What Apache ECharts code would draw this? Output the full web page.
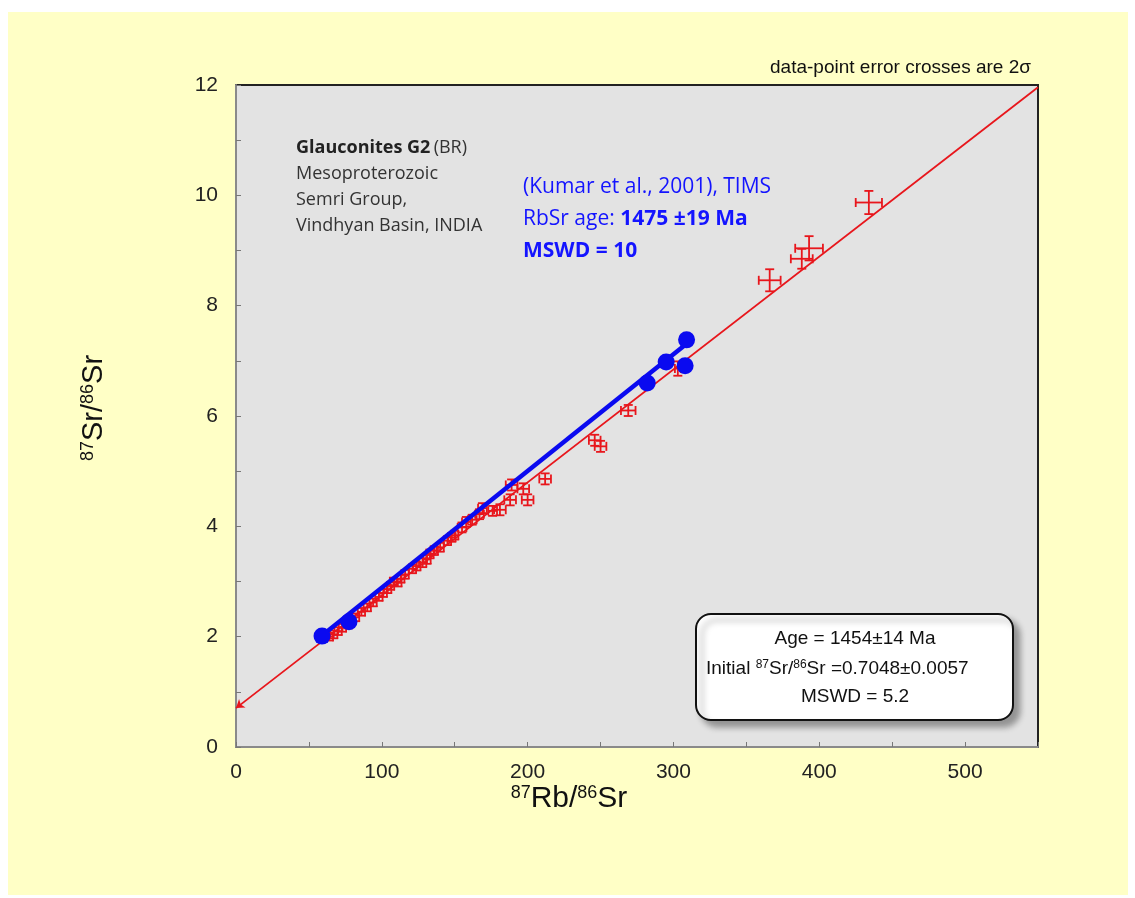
<!DOCTYPE html>
<html>
<head>
<meta charset="utf-8">
<script src="https://cdn.jsdelivr.net/npm/echarts@6/dist/echarts.min.js"></script>
<style>
html,body{margin:0;padding:0;background:#ffffff;}
#bg{position:absolute;left:8px;top:12px;width:1120px;height:883px;background:#ffffc6;}
#chart{position:absolute;left:0;top:0;width:1135px;height:898px;}
</style>
</head>
<body>
<div id="bg"></div>
<div id="chart"></div>
<script>
// 87Rb/86Sr of the red error-cross data points
const redX = [64, 67, 70, 73, 77, 82, 86, 90, 94, 98, 101, 104, 106, 108, 111, 113, 116, 121, 124, 128, 131, 133, 136, 140, 145, 148, 150, 155, 158, 162, 167, 169, 176, 181, 188, 189, 197, 200, 212, 246, 250, 269, 303, 366, 388, 393, 434];
// 87Sr/86Sr of the red data points
const redY = [2.00, 2.04, 2.10, 2.16, 2.22, 2.35, 2.45, 2.53, 2.62, 2.72, 2.79, 2.86, 2.92, 3.00, 2.98, 3.05, 3.13, 3.23, 3.28, 3.34, 3.40, 3.50, 3.56, 3.62, 3.74, 3.80, 3.84, 3.98, 4.08, 4.12, 4.22, 4.33, 4.28, 4.30, 4.48, 4.75, 4.68, 4.48, 4.86, 5.56, 5.45, 6.10, 6.86, 8.46, 8.85, 9.04, 9.87];
// 2-sigma errors (x, y)
const redXErr = [2.5, 2.5, 2.5, 2.5, 2.5, 2.5, 2.5, 2.5, 2.5, 2.5, 2.5, 2.5, 2.5, 2.5, 2.5, 2.5, 2.5, 2.5, 2.5, 2.5, 2.5, 2.5, 2.5, 2.5, 2.5, 2.5, 2.5, 3, 3, 3, 3, 3, 3, 4, 4, 4, 4, 4, 4, 4, 4, 5, 2, 7.5, 7.5, 9.5, 9];
const redYErr = [0.07, 0.07, 0.07, 0.07, 0.07, 0.07, 0.07, 0.07, 0.07, 0.07, 0.07, 0.07, 0.07, 0.07, 0.07, 0.07, 0.08, 0.08, 0.08, 0.08, 0.08, 0.08, 0.08, 0.08, 0.08, 0.08, 0.08, 0.09, 0.09, 0.09, 0.09, 0.09, 0.09, 0.1, 0.1, 0.1, 0.1, 0.1, 0.1, 0.1, 0.1, 0.1, 0.13, 0.2, 0.18, 0.22, 0.21];
// Kumar et al. (2001) TIMS points (blue)
const blueX = [59, 77.5, 282, 295, 308, 309];
const blueY = [2.01, 2.27, 6.60, 6.98, 6.91, 7.38];
// regression lines (end points)
const isochronRed = [[0, 0.7048], [550, 11.96]];
const isochronBlue = [[59, 2.02], [309, 7.31]];
// axis ticks
const xTicks = [0, 100, 200, 300, 400, 500];
const yTicks = [0, 2, 4, 6, 8, 10, 12];

const RED = '#e8161c';
const BLUE = '#0a0af0';

const chart = echarts.init(document.getElementById('chart'), null, {renderer: 'canvas'});

const crossData = redX.map((x, i) => [x, redY[i], redXErr[i], redYErr[i]]);

function renderCross(params, api) {
  const x = api.value(0), y = api.value(1), ex = api.value(2), ey = api.value(3);
  const l = api.coord([x - ex, y]);
  const r = api.coord([x + ex, y]);
  const t = api.coord([x, y + ey]);
  const b = api.coord([x, y - ey]);
  const cap = 4.5;
  const st = {stroke: RED, lineWidth: 1.8, fill: null};
  const mk = (x1, y1, x2, y2) => ({type: 'line', shape: {x1, y1, x2, y2}, style: st});
  return {
    type: 'group',
    children: [
      mk(l[0], l[1], r[0], r[1]),
      mk(t[0], t[1], b[0], b[1]),
      mk(l[0], l[1] - cap, l[0], l[1] + cap),
      mk(r[0], r[1] - cap, r[0], r[1] + cap),
      mk(t[0] - cap, t[1], t[0] + cap, t[1]),
      mk(b[0] - cap, b[1], b[0] + cap, b[1])
    ]
  };
}

const LBL = {color: '#222', fontSize: 21, fontFamily: 'Liberation Sans, Arial, sans-serif'};
const BOXFONT = '19px "Liberation Sans", Arial, sans-serif';

const option = {
  backgroundColor: 'transparent',
  animation: false,
  grid: {
    left: 236, top: 85, right: 97, bottom: 151,
    show: true, backgroundColor: '#e3e3e3', borderColor: '#222', borderWidth: 2
  },
  xAxis: {
    type: 'value', min: 0, max: 550, interval: 50,
    axisLine: {show: true, onZero: false, lineStyle: {color: '#8a8a8a', width: 2}},
    axisTick: {show: true, inside: true, length: 5, lineStyle: {color: '#777'}},
    splitLine: {show: false},
    axisLabel: Object.assign({margin: 15, formatter: v => xTicks.indexOf(v) >= 0 ? String(v) : ''}, LBL)
  },
  yAxis: {
    type: 'value', min: 0, max: 12, interval: 1,
    axisLine: {show: true, onZero: false, lineStyle: {color: '#8a8a8a', width: 2}},
    axisTick: {show: true, inside: true, length: 5, lineStyle: {color: '#777'}},
    splitLine: {show: false},
    axisLabel: Object.assign({margin: 18, formatter: v => yTicks.indexOf(v) >= 0 ? String(v) : ''}, LBL)
  },
  series: [
    {
      type: 'line', data: isochronRed, symbol: 'none', z: 2,
      lineStyle: {color: RED, width: 1.8},
      markLine: {
        silent: true, symbol: ['arrow', 'none'], symbolSize: 8,
        label: {show: false},
        lineStyle: {color: RED, width: 0.01, type: 'solid'},
        data: [[{coord: isochronRed[0]}, {coord: [8, 0.7048 + 8 * (isochronRed[1][1] - isochronRed[0][1]) / 550]}]]
      }
    },
    {
      type: 'custom', renderItem: renderCross, data: crossData, z: 3,
      encode: {x: 0, y: 1}
    },
    {
      type: 'line', data: isochronBlue, symbol: 'none', z: 4,
      lineStyle: {color: BLUE, width: 4.5}
    },
    {
      type: 'scatter', data: blueX.map((x, i) => [x, blueY[i]]), z: 5,
      symbol: 'circle', symbolSize: 17, itemStyle: {color: BLUE, opacity: 1}
    }
  ],
  graphic: [
    {
      type: 'text', right: 1135 - 1031, top: 58,
      style: {text: 'data-point error crosses are 2σ', font: '19px "Liberation Sans", Arial, sans-serif', fill: '#111'}
    },
    {
      type: 'text', x: 296, y: 135,
      style: {
        text: '{b|Glauconites G2} {n|(BR)}\n{n|Mesoproterozoic}\n{n|Semri Group,}\n{n|Vindhyan Basin, INDIA}',
        fill: '#333',
        rich: {
          b: {fontFamily: 'Open Sans', fontSize: 18, fontWeight: 'bold', fill: '#222', lineHeight: 26},
          n: {fontFamily: 'Open Sans', fontSize: 18, fill: '#333', lineHeight: 26}
        }
      }
    },
    {
      type: 'text', x: 523, y: 171,
      style: {
        text: '{n|(Kumar et al., 2001), TIMS}\n{n|RbSr age: }{b|1475 ±19 Ma}\n{b|MSWD = 10}',
        fill: BLUE,
        rich: {
          n: {fontFamily: 'Open Sans', fontSize: 21, fill: '#1414ff', lineHeight: 32},
          b: {fontFamily: 'Open Sans', fontSize: 21, fontWeight: 'bold', fill: '#1414ff', lineHeight: 32}
        }
      }
    },
    {
      type: 'rect', shape: {x: 696, y: 614, width: 317, height: 106, r: 15},
      style: {fill: '#ffffff', stroke: '#111', lineWidth: 2, shadowBlur: 6, shadowOffsetX: 6, shadowOffsetY: 6, shadowColor: 'rgba(0,0,0,0.35)'}
    },
    {
      type: 'text', x: 855, y: 639,
      style: {text: 'Age = 1454±14 Ma', font: BOXFONT, fill: '#111', textAlign: 'center', textVerticalAlign: 'middle'}
    },
    {
      type: 'text', x: 706, y: 659,
      style: {
        text: '{n|Initial }{s|87}{n|Sr/}{s|86}{n|Sr =0.7048±0.0057}',
        textAlign: 'left',
        rich: {
          n: {fontFamily: 'Liberation Sans', fontSize: 19, fill: '#111', lineHeight: 22, verticalAlign: 'top'},
          s: {fontFamily: 'Liberation Sans', fontSize: 12, fill: '#111', lineHeight: 22, verticalAlign: 'top'}
        }
      }
    },
    {
      type: 'text', x: 855, y: 697,
      style: {text: 'MSWD = 5.2', font: BOXFONT, fill: '#111', textAlign: 'center', textVerticalAlign: 'middle'}
    },
    {
      type: 'text', x: 569, y: 800,
      style: {
        text: '{s|87}{m|Rb/}{s|86}{m|Sr}',
        textAlign: 'center', textVerticalAlign: 'middle',
        rich: {
          m: {fontFamily: 'Liberation Sans', fontSize: 30, fill: '#111', verticalAlign: 'top', lineHeight: 32},
          s: {fontFamily: 'Liberation Sans', fontSize: 18, fill: '#111', verticalAlign: 'top', lineHeight: 32}
        }
      }
    },
    {
      type: 'text', x: 95, y: 408, rotation: Math.PI / 2,
      style: {
        text: '{s|87}{m|Sr/}{s|86}{m|Sr}',
        textAlign: 'center', textVerticalAlign: 'middle',
        rich: {
          m: {fontFamily: 'Liberation Sans', fontSize: 29, fill: '#111', verticalAlign: 'top', lineHeight: 32},
          s: {fontFamily: 'Liberation Sans', fontSize: 18, fill: '#111', verticalAlign: 'top', lineHeight: 32}
        }
      }
    }
  ]
};
chart.setOption(option);
</script>
</body>
</html>
